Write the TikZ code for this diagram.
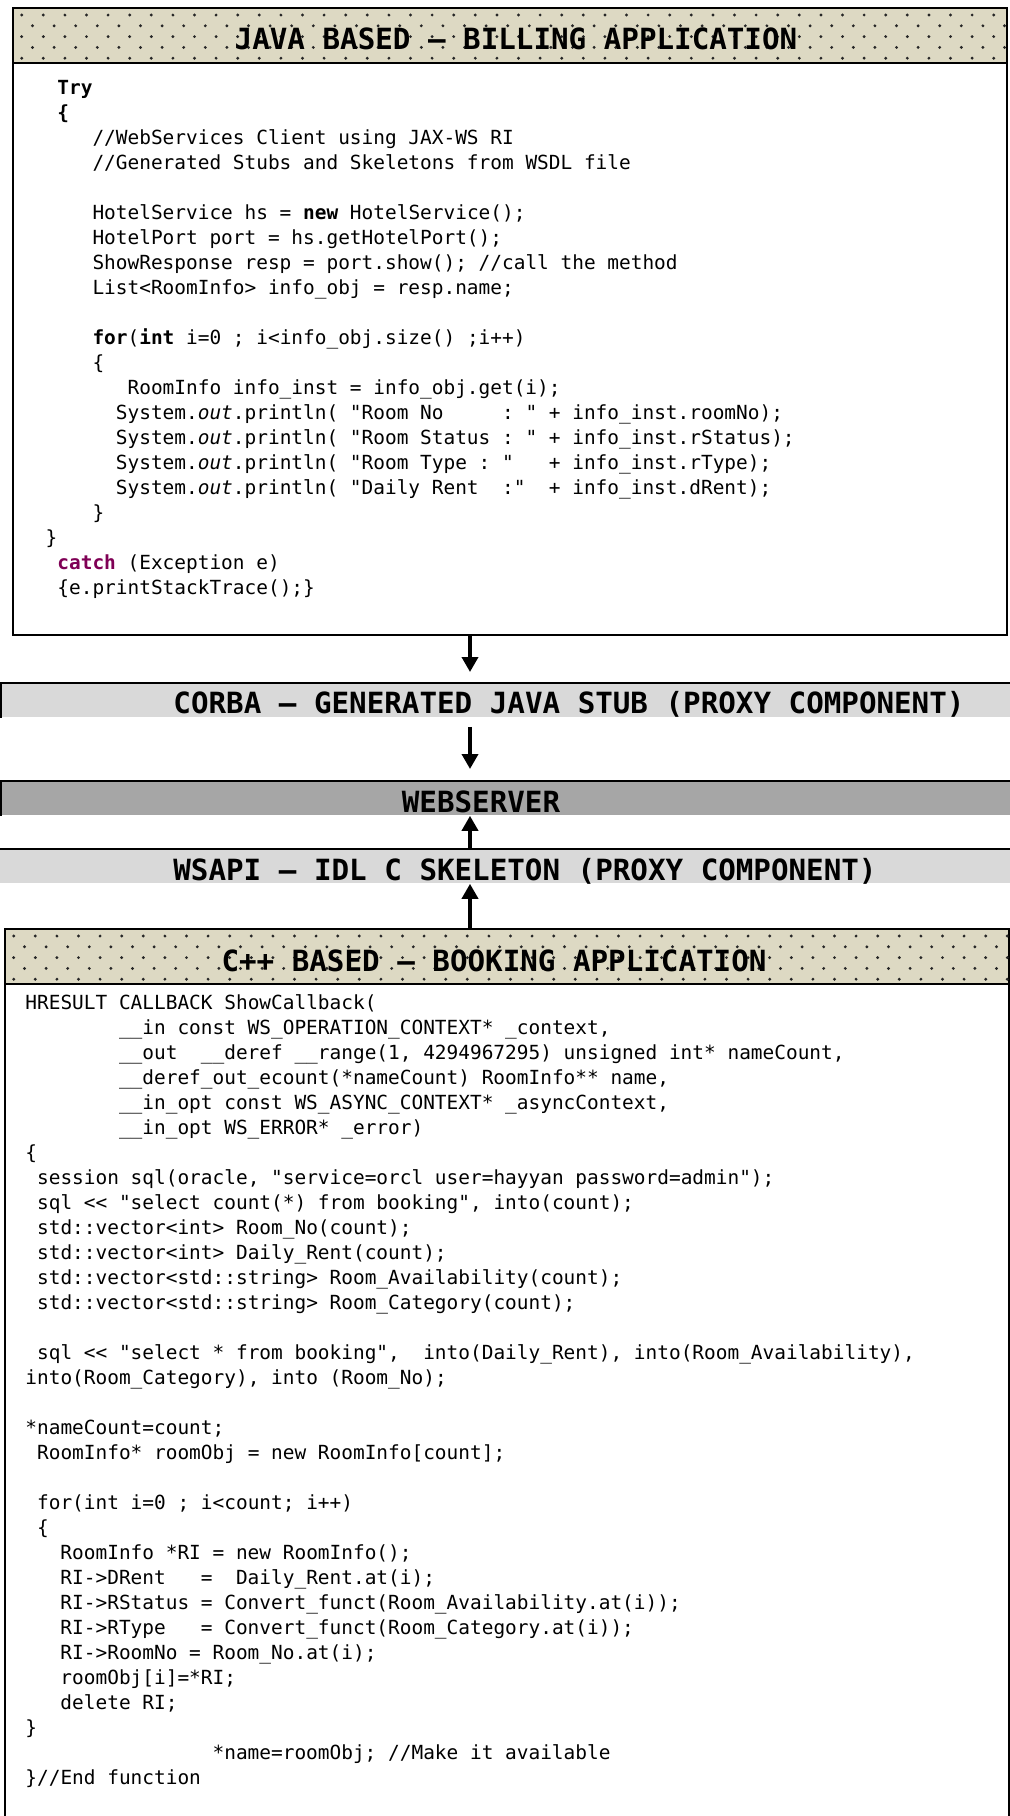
\documentclass[tikz,border=0pt]{standalone}
\usepackage{fontspec}
\setmonofont{DejaVu Sans Mono}
\usetikzlibrary{arrows.meta}
\frenchspacing

\definecolor{bannertan}{HTML}{DDD9C3}
\definecolor{barlight}{HTML}{D9D9D9}
\definecolor{bardark}{HTML}{A6A6A6}
\definecolor{kwpurple}{HTML}{7F0055}

\newcommand{\hdfont}{\ttfamily\bfseries\fontsize{14.6}{17}\selectfont}
\newcommand{\cdfont}{\ttfamily\fontsize{9.72}{12}\selectfont}

% code lines: line number, indent (in characters), text
\newcommand{\jcode}[3]{\node[codeln] (j#1) at ({57+#2*11.7},{94.5+25*#1}) {#3};}
\newcommand{\ccode}[3]{\node[codeln] (c#1) at ({25+#2*11.7},{1009.5+25*#1}) {#3};}

% dotted fill of a banner
\newcommand{\bannerdots}[1]{%
  \begin{scope}
    \clip (#1.south west) rectangle (#1.north east);
    \begin{scope}[shift={(#1.north west)}]
      \foreach \r in {0,...,4}
        \foreach \c in {0,...,46}
          \fill[dotc] ({9.7+\c*21.6+mod(\r,2)*10.8},{8+\r*10.8}) circle[radius=0.8pt];
    \end{scope}
  \end{scope}}

\tikzset{
  banner/.style={draw, line width=1pt, fill=bannertan, anchor=north west, inner sep=0pt,
    minimum width=497pt, minimum height=27.5pt},
  codebox/.style={draw, line width=1pt, anchor=north west, inner sep=0pt, minimum width=497pt},
  layerbar/.style={fill=#1, anchor=north west, inner sep=0pt, minimum width=520pt, minimum height=17pt},
  barline/.style={line width=1.2pt},
  hdtext/.style={anchor=base, inner sep=0pt, font=\hdfont},
  codeln/.style={anchor=base west, inner sep=0pt, font=\cdfont},
  arr/.style={line width=1.8pt, -{Triangle[length=7.5pt,width=8pt]}},
  dotc/.style={fill=black!85},
}

\begin{document}
\begin{tikzpicture}[x=0.5pt, y=-0.5pt]
\useasboundingbox (0,0) rectangle (1010,1816);

% Java client
\node[banner] (javabanner) at (12,7) {};
\bannerdots{javabanner}
\node[hdtext] (javatitle) at (516,49) {JAVA BASED – BILLING APPLICATION};
\node[codebox, minimum height=286pt] (javabox) at (12,62) {};

\jcode{0}{0}{\textbf{Try}}
\jcode{1}{0}{\textbf{\{}}
\jcode{2}{3}{//WebServices Client using JAX-WS RI}
\jcode{3}{3}{//Generated Stubs and Skeletons from WSDL file}
\jcode{5}{3}{HotelService hs = \textbf{new} HotelService();}
\jcode{6}{3}{HotelPort port = hs.getHotelPort();}
\jcode{7}{3}{ShowResponse resp = port.show(); //call the method}
\jcode{8}{3}{List<RoomInfo> info\_obj = resp.name;}
\jcode{10}{3}{\textbf{for}(\textbf{int} i=0 ; i<info\_obj.size() ;i++)}
\jcode{11}{3}{\{}
\jcode{12}{6}{RoomInfo info\_inst = info\_obj.get(i);}
\jcode{13}{5}{System.\textit{out}.println( "Room No\ \ \ \ \ : " + info\_inst.roomNo);}
\jcode{14}{5}{System.\textit{out}.println( "Room Status : " + info\_inst.rStatus);}
\jcode{15}{5}{System.\textit{out}.println( "Room Type : "\ \ \ + info\_inst.rType);}
\jcode{16}{5}{System.\textit{out}.println( "Daily Rent\ \ :"\ \ + info\_inst.dRent);}
\jcode{17}{3}{\}}
\jcode{18}{-1}{\}}
\jcode{19}{0}{\textcolor{kwpurple}{\textbf{catch}} (Exception e)}
\jcode{20}{0}{\{e.printStackTrace();\}}

% middle layers
\node[layerbar=barlight] (corba) at (1,683) {};
\draw[barline] (corba.south west) -- (corba.north west) -- (corba.north east);
\node[hdtext] (corbatxt) at (569,713) {CORBA – GENERATED JAVA STUB (PROXY COMPONENT)};

\node[layerbar=bardark] (websrv) at (1,781) {};
\draw[barline] (websrv.south west) -- (websrv.north west) -- (websrv.north east);
\node[hdtext] (websrvtxt) at (481,812) {WEBSERVER};

\node[layerbar=barlight] (wsapi) at (0,849) {};
\draw[barline] (wsapi.north west) -- (wsapi.north east);
\node[hdtext] (wsapitxt) at (525,880) {WSAPI – IDL C SKELETON (PROXY COMPONENT)};

% C++ service
\node[banner, minimum width=502pt] (cppbanner) at (4,928) {};
\bannerdots{cppbanner}
\node[hdtext] (cpptitle) at (494,971) {C++ BASED – BOOKING APPLICATION};
\node[codebox, minimum width=502pt, minimum height=430pt] (cppbox) at (4,983) {};

\ccode{0}{0}{HRESULT CALLBACK ShowCallback(}
\ccode{1}{8}{\_\_in const WS\_OPERATION\_CONTEXT* \_context,}
\ccode{2}{8}{\_\_out\ \ \_\_deref \_\_range(1, 4294967295) unsigned int* nameCount,}
\ccode{3}{8}{\_\_deref\_out\_ecount(*nameCount) RoomInfo** name,}
\ccode{4}{8}{\_\_in\_opt const WS\_ASYNC\_CONTEXT* \_asyncContext,}
\ccode{5}{8}{\_\_in\_opt WS\_ERROR* \_error)}
\ccode{6}{0}{\{}
\ccode{7}{1}{session sql(oracle, "service=orcl user=hayyan password=admin");}
\ccode{8}{1}{sql << "select count(*) from booking", into(count);}
\ccode{9}{1}{std::vector<int> Room\_No(count);}
\ccode{10}{1}{std::vector<int> Daily\_Rent(count);}
\ccode{11}{1}{std::vector<std::string> Room\_Availability(count);}
\ccode{12}{1}{std::vector<std::string> Room\_Category(count);}
\ccode{14}{1}{sql << "select * from booking",\ \ into(Daily\_Rent), into(Room\_Availability),}
\ccode{15}{0}{into(Room\_Category), into (Room\_No);}
\ccode{17}{0}{*nameCount=count;}
\ccode{18}{1}{RoomInfo* roomObj = new RoomInfo[count];}
\ccode{20}{1}{for(int i=0 ; i<count; i++)}
\ccode{21}{1}{\{}
\ccode{22}{3}{RoomInfo *RI = new RoomInfo();}
\ccode{23}{3}{RI->DRent\ \ \ =\ \ Daily\_Rent.at(i);}
\ccode{24}{3}{RI->RStatus = Convert\_funct(Room\_Availability.at(i));}
\ccode{25}{3}{RI->RType\ \ \ = Convert\_funct(Room\_Category.at(i));}
\ccode{26}{3}{RI->RoomNo = Room\_No.at(i);}
\ccode{27}{3}{roomObj[i]=*RI;}
\ccode{28}{3}{delete RI;}
\ccode{29}{0}{\}}
\ccode{30}{16}{*name=roomObj; //Make it available}
\ccode{31}{0}{\}//End function}

% calls down and up the stack
\coordinate (spine) at (470,0);
\draw[arr, shorten >=5.5pt] (javabox.south -| spine) -- (corba.north -| spine);
\draw[arr, shorten <=4.5pt, shorten >=6pt] (corba.south -| spine) -- (websrv.north -| spine);
\draw[arr] (wsapi.north -| spine) -- (websrv.south -| spine);
\draw[arr] (cppbanner.north -| spine) -- (wsapi.south -| spine);
\end{tikzpicture}
\end{document}
